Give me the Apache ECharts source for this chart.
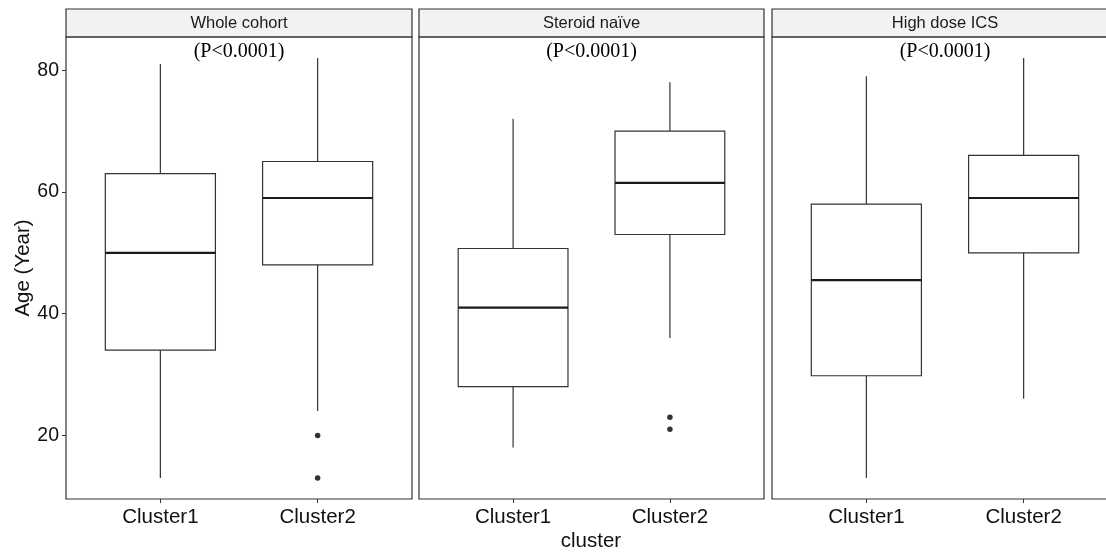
<!DOCTYPE html>
<html>
<head>
<meta charset="utf-8">
<script src="https://cdn.jsdelivr.net/npm/echarts@6/dist/echarts.min.js"></script>
<style>
  html, body { margin: 0; padding: 0; background: #ffffff; }
  #chart { width: 1106px; height: 554px; }
</style>
</head>
<body>
<div id="chart"></div>
<script>
// Facets and categories
var facets = ['Whole cohort', 'Steroid naïve', 'High dose ICS'];
var categories = ['Cluster1', 'Cluster2'];
var pLabels = ['(P<0.0001)', '(P<0.0001)', '(P<0.0001)'];
var yTicks = [20, 40, 60, 80];

// Box statistics per cluster: [lower whisker, Q1, median, Q3, upper whisker]
var wholeCohort = [[13, 34, 50, 63, 81], [24, 48, 59, 65, 82]];
var steroidNaive = [[18, 28, 41, 50.7, 72], [36, 53, 61.5, 70, 78]];
var highDoseICS = [[13, 29.8, 45.5, 58, 79], [26, 50, 59, 66, 82]];

// Outliers: [cluster index (1-based), age]
var wholeCohortOutliers = [[2, 20], [2, 13]];
var steroidNaiveOutliers = [[2, 23], [2, 21]];
var highDoseICSOutliers = [];

var boxStats = [wholeCohort, steroidNaive, highDoseICS];
var outlierSets = [wholeCohortOutliers, steroidNaiveOutliers, highDoseICSOutliers];

// Panel layout (the last panel runs past the right edge of the canvas)
var canvasWidth = 1106;
var panels = [
  { left: 66, width: 346 },
  { left: 419, width: 345 },
  { left: 772, width: 346 }
];
var panelTop = 37, panelHeight = 462;
var stripTop = 9, stripHeight = 28;
var yMin = 9.55, yMax = 85.45;
var xMin = 0.4, xMax = 2.6;
var boxWidth = 0.7;
var ink = '#333333';

var chart = echarts.init(document.getElementById('chart'), null, { renderer: 'canvas' });

var grids = [], xAxes = [], yAxes = [], series = [], graphics = [];

panels.forEach(function (p, i) {
  // visible part of the panel and matching x range, so the scale stays the same
  var visibleWidth = Math.min(p.width, canvasWidth - p.left);
  var visibleMax = xMin + (xMax - xMin) * visibleWidth / p.width;

  grids.push({
    left: p.left, top: panelTop, width: visibleWidth, height: panelHeight,
    show: false, containLabel: false
  });
  xAxes.push({
    type: 'value', gridIndex: i, min: xMin, max: visibleMax,
    splitLine: { show: false },
    axisLine: { show: false },
    axisTick: { show: true, customValues: [1, 2], length: 4, lineStyle: { color: ink, width: 1 } },
    axisLabel: {
      show: true, customValues: [1, 2], margin: 8,
      fontFamily: 'Liberation Sans, Arial, sans-serif', fontSize: 20.5, color: '#111111',
      formatter: function (v) { return categories[Math.round(v) - 1] || ''; }
    }
  });
  yAxes.push({
    type: 'value', gridIndex: i, min: yMin, max: yMax,
    splitLine: { show: false },
    axisLine: { show: false },
    axisTick: { show: i === 0, customValues: yTicks, length: 4, lineStyle: { color: ink, width: 1 } },
    axisLabel: {
      show: i === 0, customValues: yTicks, margin: 7,
      fontFamily: 'Liberation Sans, Arial, sans-serif', fontSize: 19.5, color: '#111111'
    }
  });

  var boxData = boxStats[i].map(function (s, k) {
    return [k + 1, s[0], s[1], s[2], s[3], s[4]];
  });

  series.push({
    type: 'custom',
    xAxisIndex: i, yAxisIndex: i,
    data: boxData,
    encode: { x: 0, y: [1, 2, 3, 4, 5] },
    renderItem: function (params, api) {
      var x = api.value(0);
      var pLow = api.coord([x, api.value(1)]);
      var pQ1 = api.coord([x, api.value(2)]);
      var pMed = api.coord([x, api.value(3)]);
      var pQ3 = api.coord([x, api.value(4)]);
      var pHigh = api.coord([x, api.value(5)]);
      var w = api.size([boxWidth, 0])[0];
      var lineStyle = { stroke: ink, lineWidth: 1.2, fill: null };
      return {
        type: 'group',
        children: [
          { type: 'line', shape: { x1: pHigh[0], y1: pHigh[1], x2: pQ3[0], y2: pQ3[1] }, style: lineStyle },
          { type: 'line', shape: { x1: pQ1[0], y1: pQ1[1], x2: pLow[0], y2: pLow[1] }, style: lineStyle },
          { type: 'rect', shape: { x: pQ3[0] - w / 2, y: pQ3[1], width: w, height: pQ1[1] - pQ3[1] },
            style: { stroke: ink, lineWidth: 1.2, fill: '#ffffff' } },
          { type: 'line', shape: { x1: pMed[0] - w / 2, y1: pMed[1], x2: pMed[0] + w / 2, y2: pMed[1] },
            style: { stroke: '#1a1a1a', lineWidth: 2.2 } }
        ]
      };
    },
    z: 2
  });

  series.push({
    type: 'scatter',
    xAxisIndex: i, yAxisIndex: i,
    data: outlierSets[i],
    symbol: 'circle', symbolSize: 5.5,
    itemStyle: { color: '#000000' },
    z: 3
  });

  // Panel border
  graphics.push({
    type: 'rect', z: 5,
    shape: { x: p.left, y: panelTop, width: p.width, height: panelHeight },
    style: { fill: null, stroke: ink, lineWidth: 1.2 }
  });
  // Facet strip
  graphics.push({
    type: 'rect', z: 4,
    shape: { x: p.left, y: stripTop, width: p.width, height: stripHeight },
    style: { fill: '#F2F2F2', stroke: ink, lineWidth: 1.2 }
  });
  graphics.push({
    type: 'text', x: p.left + p.width / 2, y: stripTop + stripHeight / 2 + 0.5, z: 6,
    style: {
      text: facets[i], fill: '#1a1a1a', align: 'center', verticalAlign: 'middle',
      font: '16.5px "Liberation Sans", Arial, sans-serif'
    }
  });
  // Test annotation
  graphics.push({
    type: 'text', x: p.left + p.width / 2, y: 51.5, z: 10,
    style: {
      text: pLabels[i], fill: '#000000', align: 'center', verticalAlign: 'middle',
      font: '20px "Liberation Serif", "Times New Roman", serif'
    }
  });
});

// Axis titles
graphics.push({
  type: 'text', x: 591, y: 541,
  style: {
    text: 'cluster', fill: '#111111', align: 'center', verticalAlign: 'middle',
    font: '20.5px "Liberation Sans", Arial, sans-serif'
  }
});
graphics.push({
  type: 'text', x: 23, y: 268, rotation: Math.PI / 2,
  style: {
    text: 'Age (Year)', fill: '#111111', align: 'center', verticalAlign: 'middle',
    font: '20.5px "Liberation Sans", Arial, sans-serif'
  }
});

chart.setOption({
  backgroundColor: '#ffffff',
  animation: false,
  grid: grids,
  xAxis: xAxes,
  yAxis: yAxes,
  series: series,
  graphic: graphics
});
</script>
</body>
</html>
